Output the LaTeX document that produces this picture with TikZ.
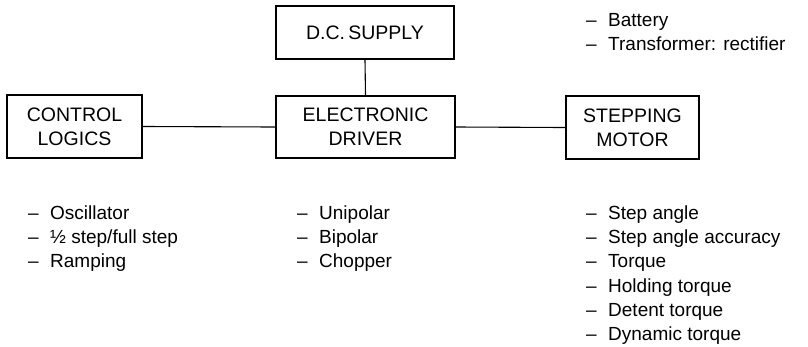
\documentclass[tikz,border=0pt]{standalone}
\usepackage{fontspec}
\setmainfont{Liberation Sans}
\newcommand\dashitem[1]{\makebox[22pt][l]{--}#1}
\begin{document}
\begin{tikzpicture}[x=1pt,y=-1pt,
  box/.style={draw, line width=1.8pt, rectangle, inner sep=0pt, align=center,
    font=\fontsize{19.5}{24}\selectfont},
  conn/.style={line width=1.1pt},
  item/.style={anchor=base west, inner sep=0pt, font=\fontsize{19}{24}\selectfont}]
\useasboundingbox (0,0) rectangle (808,346);
\node[box, minimum width=178pt, minimum height=53pt] (dc) at (365,32.5) {D.C.\,SUPPLY};
\node[box, minimum width=179pt, minimum height=62pt] (ed) at (365.5,127) {ELECTRONIC\\DRIVER};
\node[box, minimum width=135pt, minimum height=63pt] (cl) at (74.5,126.5) {CONTROL\\LOGICS};
\node[box, minimum width=133pt, minimum height=63pt] (sm) at (632.5,127.5) {STEPPING\\MOTOR};
\draw[conn] (dc.south) -- (ed.north);
\draw[conn] (cl.east) -- (ed.west);
\draw[conn] (ed.east) -- (sm.west);
% supply list
\node[item] (b1) at (586,26) {\dashitem{Battery}};
\node[item] (b2) at (586,50) {\dashitem{Transformer: rectifier}};
% control list
\node[item] (c1) at (28,219) {\dashitem{Oscillator}};
\node[item] (c2) at (28,243) {\dashitem{½ step/full step}};
\node[item] (c3) at (28,267) {\dashitem{Ramping}};
% driver list
\node[item] (d1) at (297,219) {\dashitem{Unipolar}};
\node[item] (d2) at (297,243) {\dashitem{Bipolar}};
\node[item] (d3) at (297,267) {\dashitem{Chopper}};
% motor list
\node[item] (m1) at (586,219) {\dashitem{Step angle}};
\node[item] (m2) at (586,243) {\dashitem{Step angle accuracy}};
\node[item] (m3) at (586,267) {\dashitem{Torque}};
\node[item] (m4) at (586,292) {\dashitem{Holding torque}};
\node[item] (m5) at (586,316) {\dashitem{Detent torque}};
\node[item] (m6) at (586,340) {\dashitem{Dynamic torque}};
\end{tikzpicture}
\end{document}
